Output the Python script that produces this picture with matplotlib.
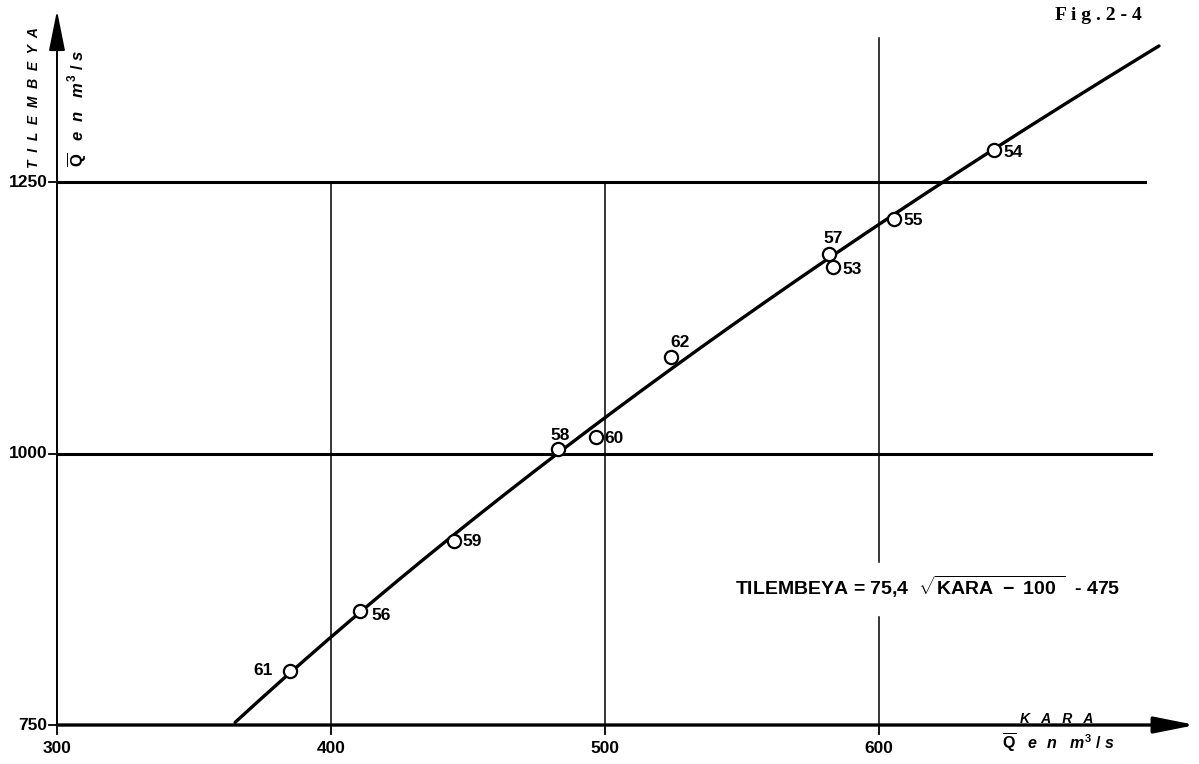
import matplotlib.pyplot as plt
import numpy as np

# Annual mean discharges (m3/s) at Kara and Tilembeya, labelled by year
years = ['61', '56', '59', '58', '60', '62', '57', '53', '55', '54']
kara = [385.0, 410.6, 445.0, 483.0, 496.7, 524.0, 581.8, 583.2, 605.5, 642.0]
tilembeya = [800.0, 855.0, 919.0, 1004.0, 1015.5, 1089.0, 1183.7, 1171.7, 1215.9, 1279.5]
# label offsets in points (dx, dy) for each year tag
label_off = [(-19, 0), (15, -3), (13, 0), (1, 10), (13, -1), (7, 10), (3, 11), (14, -2), (14, -1), (14, -2)]

xticks = [300, 400, 500, 600]
yticks = [750, 1000, 1250]

# regression curve printed on the sheet
a, b, c = 75.4, 100, 475
kx = np.linspace(365, 702.2, 200)
ty = a * np.sqrt(kx - b) - c

plt.rcParams['font.family'] = ['Liberation Sans', 'DejaVu Sans']
plt.rcParams['mathtext.fontset'] = 'custom'
plt.rcParams['mathtext.rm'] = 'Liberation Sans:bold'
plt.rcParams['mathtext.it'] = 'Liberation Sans:bold:italic'
plt.rcParams['mathtext.bf'] = 'Liberation Sans:bold'

fig = plt.figure(figsize=(11.99, 7.64), dpi=100)
ax = fig.add_axes([0, 0, 1, 1])
ax.set_xlim(279.2, 716.8)
ax.set_ylim(714.1, 1417.6)
ax.axis('off')

# axes with arrows
ax.annotate('', xy=(715.5, 750), xytext=(300, 750),
            arrowprops=dict(arrowstyle='-|>,head_length=2.5,head_width=0.5',
                            mutation_scale=10, lw=2.4, color='black',
                            shrinkA=0, shrinkB=0))
ax.annotate('', xy=(300, 1408), xytext=(300, 750),
            arrowprops=dict(arrowstyle='-|>,head_length=2.5,head_width=0.5',
                            mutation_scale=10, lw=1.4, color='black',
                            shrinkA=0, shrinkB=0))

# grid
ax.plot([300, 699.1], [1000, 1000], color='black', lw=2.2)
ax.plot([300, 697.0], [1250, 1250], color='black', lw=2.2)
ax.plot([400, 400], [750, 1250], color='black', lw=1.1)
ax.plot([500, 500], [750, 1250], color='black', lw=1.1)
ax.plot([600, 600], [750, 849.4], color='black', lw=1.1)
ax.plot([600, 600], [900.1, 1382.6], color='black', lw=1.1)

# ticks and tick labels
for x in xticks:
    ax.plot([x, x], [750, 742], color='black', lw=1.3)
    ax.text(x, 728, str(x), ha='center', va='center', fontsize=12.5,
            fontweight='bold')
for y in yticks:
    ax.plot([300, 297], [y, y], color='black', lw=1.3)
    ax.text(296.5, y, str(y), ha='right', va='center', fontsize=12.5,
            fontweight='bold')

# curve and observations
ax.plot(kx, ty, color='black', lw=2.4, solid_capstyle='round')
ax.plot(kara, tilembeya, 'o', ms=9.5, mfc='white', mec='black', mew=1.6)
for yr, x, y, (dx, dy) in zip(years, kara, tilembeya, label_off):
    ax.annotate(yr, (x, y), xytext=(dx, dy), textcoords='offset points',
                ha='center', va='center', fontsize=12.5, fontweight='bold')

# equation
ax.text(547.4, 877, r'TILEMBEYA = 75,4  $\sqrt{\mathrm{KARA\ -\ 100\ }}$  - 475',
        ha='left', va='center', fontsize=14, fontweight='bold')

# axis titles
ax.text(291.6, 1328, 'T  I  L  E  M  B  E  Y  A', rotation=90, ha='center',
        va='center', fontsize=10, fontweight='bold', style='italic')
ax.text(307.3, 1318, r'$\overline{\mathrm{Q}}$   $e\ \ n$   $m^{3}\ /\ s$',
        rotation=90, ha='center', va='center', fontsize=12)
ax.text(665, 755.5, 'K   A   R   A', ha='center', va='center', fontsize=10,
        fontweight='bold', style='italic')
ax.text(665.5, 733, r'$\overline{\mathrm{Q}}$   $e\ \ n$   $m^{3}\ /\ s$',
        ha='center', va='center', fontsize=11.5)

ax.text(1098 / 1199, 1 - 16 / 764, 'F i g . 2 - 4', transform=fig.transFigure,
        ha='center', va='center', fontsize=14, fontweight='bold',
        family='Liberation Serif')

fig.savefig('out.png', dpi=100)
